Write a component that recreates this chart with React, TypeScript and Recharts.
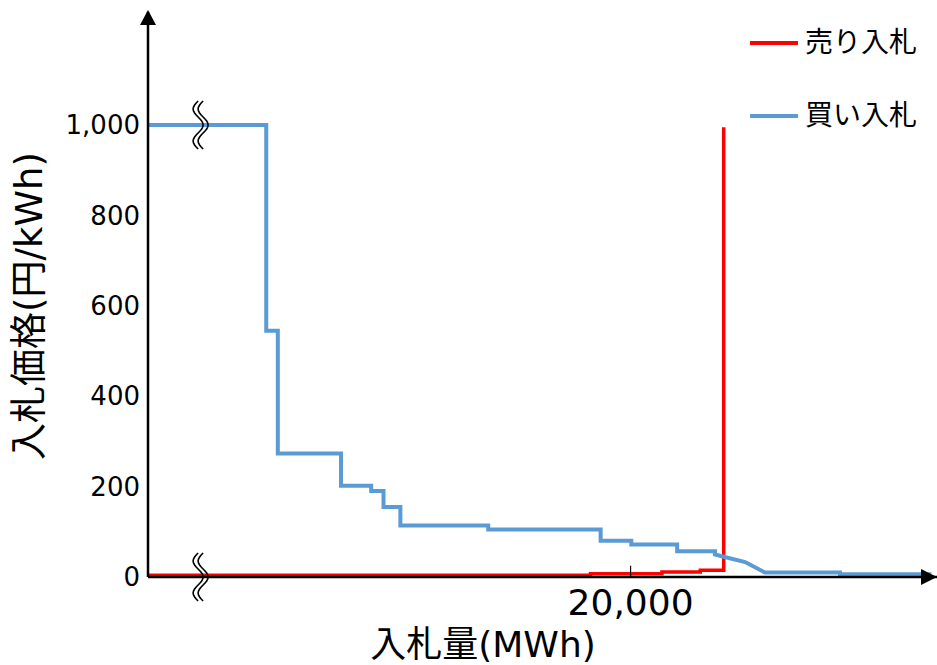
import React from 'react';
import {
  LineChart,
  Line,
  XAxis,
  YAxis,
  ReferenceDot,
  ReferenceLine,
  Label,
} from 'recharts';

// bid curves (x: MWh, y: 円/kWh)
const buyX = [0, 4900, 4900, 5380, 5380, 8000, 8000, 9250, 9250, 9760, 9760, 10460, 10460, 14100, 14100, 18760, 18760, 20030, 20030, 21930, 21930, 23500, 23500, 23780, 24750, 25570, 28680, 28680, 32470];
const buyY = [1000, 1000, 545, 545, 273, 273, 202, 202, 190, 190, 155, 155, 114, 114, 105, 105, 80, 80, 72, 72, 57, 57, 50, 46, 33, 10, 10, 6, 6];

const sellX = [0, 18340, 18340, 21300, 21300, 22890, 22890, 23860, 23860];
const sellY = [4, 4, 7, 7, 11, 11, 15, 15, 995];

const yTicks = [0, 200, 400, 600, 800, 1000];
const xTicks = [20000];
const X_MAX = 32700;
const Y_MAX = 1250;

const buyData = buyX.map((x, i) => ({ x, y: buyY[i] }));
const sellData = sellX.map((x, i) => ({ x, y: sellY[i] }));

const NUM_FONT = '"DejaVu Sans", "Noto Sans CJK JP", sans-serif';
const JP_FONT = '"DejaVu Sans", "Noto Sans CJK JP", sans-serif';

const fmt = (v: number) => v.toLocaleString('en-US');

const UpArrow = ({ cx, cy }: any) => (
  <path d={`M${cx},${cy - 2} L${cx - 8},${cy + 13} L${cx + 8},${cy + 13} Z`} fill="#000" />
);

const RightArrow = ({ cx, cy }: any) => (
  <path d={`M${cx},${cy} L${cx - 16},${cy - 8} L${cx - 16},${cy + 8} Z`} fill="#000" />
);

// axis break mark (two wavy strokes)
const BreakMark = ({ cx, cy }: any) => {
  const strand = (dx: number) => {
    const pts: string[] = [];
    for (let i = 0; i <= 24; i++) {
      const t = i / 24;
      const y = cy - 24 + 48 * t;
      const x = cx + dx - 5 * Math.sin(t * Math.PI * 3);
      pts.push(`${i === 0 ? 'M' : 'L'}${x.toFixed(1)},${y.toFixed(1)}`);
    }
    return pts.join(' ');
  };
  return (
    <g>
      <path d={strand(-2)} stroke="#000" strokeWidth={1.6} fill="none" />
      <path d={strand(3)} stroke="#000" strokeWidth={1.6} fill="none" />
    </g>
  );
};

const legendItems = [
  { name: '売り入札', color: '#FF0000', top: 23 },
  { name: '買い入札', color: '#5B9BD5', top: 96 },
];

export default function App() {
  return (
    <div style={{ position: 'absolute', left: 0, top: 0, width: 937, height: 665, background: '#fff' }}>
      <LineChart width={937} height={665} margin={{ top: 12, right: 0, bottom: 0, left: 0 }}>
        <XAxis
          type="number"
          dataKey="x"
          domain={[0, X_MAX]}
          ticks={xTicks}
          tickFormatter={fmt}
          allowDataOverflow
          axisLine={{ stroke: '#000', strokeWidth: 2.5 }}
          tickLine={false}
          tickSize={0}
          tickMargin={12}
          height={88}
          tick={{ fontFamily: NUM_FONT, fontSize: 36, fill: '#000' }}
        >
          <Label
            content={() => (
              <text x={483} y={657} textAnchor="middle" fontFamily={JP_FONT} fontSize={36} fill="#000">
                入札量(MWh)
              </text>
            )}
          />
        </XAxis>
        <YAxis
          type="number"
          dataKey="y"
          domain={[0, Y_MAX]}
          ticks={yTicks}
          tickFormatter={fmt}
          allowDataOverflow
          width={148}
          axisLine={{ stroke: '#000', strokeWidth: 2.5 }}
          tickLine={false}
          tickSize={0}
          tickMargin={8}
          tick={{ fontFamily: NUM_FONT, fontSize: 26, fill: '#000' }}
        >
          <Label
            content={() => (
              <text
                x={29}
                y={306}
                transform="rotate(-90, 29, 306)"
                textAnchor="middle"
                dominantBaseline="central"
                fontFamily={JP_FONT}
                fontSize={37}
                fill="#000"
              >
                入札価格(円/kWh)
              </text>
            )}
          />
        </YAxis>
        <Line
          data={sellData}
          dataKey="y"
          name="売り入札"
          type="linear"
          stroke="#FF0000"
          strokeWidth={3.5}
          dot={false}
          isAnimationActive={false}
        />
        <Line
          data={buyData}
          dataKey="y"
          name="買い入札"
          type="linear"
          stroke="#5B9BD5"
          strokeWidth={4}
          dot={false}
          isAnimationActive={false}
        />
        <ReferenceLine
          segment={[{ x: 20000, y: 0 }, { x: 20000, y: 25 }]}
          stroke="#000"
          strokeWidth={1.2}
          ifOverflow="visible"
        />
        <ReferenceDot x={2160} y={1000} r={0} ifOverflow="visible" shape={(p: any) => <BreakMark {...p} />} />
        <ReferenceDot x={2160} y={0} r={0} ifOverflow="visible" shape={(p: any) => <BreakMark {...p} />} />
        <ReferenceDot x={0} y={Y_MAX} r={0} ifOverflow="visible" shape={(p: any) => <UpArrow {...p} />} />
        <ReferenceDot x={X_MAX} y={0} r={0} ifOverflow="visible" shape={(p: any) => <RightArrow {...p} />} />
      </LineChart>
      {legendItems.map((it) => (
        <div
          key={it.name}
          style={{ position: 'absolute', left: 750, top: it.top, display: 'flex', alignItems: 'center', height: 40 }}
        >
          <div style={{ width: 48, height: 4, background: it.color, marginRight: 7 }} />
          <span style={{ fontFamily: JP_FONT, fontSize: 28, color: '#000', lineHeight: '40px' }}>{it.name}</span>
        </div>
      ))}
    </div>
  );
}
